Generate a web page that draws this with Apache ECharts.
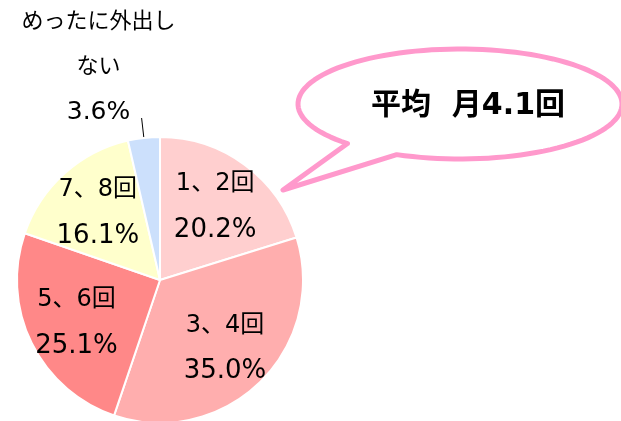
<!DOCTYPE html>
<html>
<head>
<meta charset="utf-8">
<script src="https://cdn.jsdelivr.net/npm/echarts@6/dist/echarts.min.js"></script>
<style>
html,body{margin:0;padding:0;background:#fff;}
#main{width:621px;height:421px;}
</style>
</head>
<body>
<div id="main"></div>
<script>
//外出の頻度（月あたり）
var categories = ['1、2回', '3、4回', '5、6回', '7、8回', 'めったに外出しない'];
var shares = [20.2, 35.0, 25.1, 16.1, 3.6];
var averageText = '平均  月4.1回';

var sliceColors = ['#ffcfcf', '#ffaeae', '#ff8888', '#ffffcc', '#cce0fc'];
var labelFont = '"DejaVu Sans", "Noto Sans CJK JP", sans-serif';
var lastIndex = categories.length - 1;

//「めったに外出しない」用ラベル
var smallSliceLabel = {
    show: true,
    formatter: function (p) {
        return '{a|' + p.name.slice(0, 7) + '}\n{a|' + p.name.slice(7) + '}\n{v|' + p.value.toFixed(1) + '%}';
    },
    rich: {
        a: {
            color: '#000',
            fontFamily: labelFont,
            fontSize: 22,
            lineHeight: 45,
            width: 160,
            align: 'center'
        },
        v: {
            color: '#000',
            fontFamily: labelFont,
            fontSize: 25,
            lineHeight: 45,
            width: 160,
            align: 'center'
        }
    }
};

//本体（引き出し線のみ）
function mainData(){
    var list = [];
    for (var i = 0; i < categories.length; i++) {
        var item = { name: categories[i], value: shares[i] };
        if (i === lastIndex) {
            item.label = { show: true, formatter: ' ', fontSize: 2 };
            item.labelLine = { show: true };
        }
        list.push(item);
    }
    return list;
}

//ラベル用
function labelData(){
    var list = [];
    for (var i = 0; i < categories.length; i++) {
        var item = { name: categories[i], value: shares[i] };
        if (i === lastIndex) {
            item.label = smallSliceLabel;
        }
        list.push(item);
    }
    return list;
}

//吹き出しの輪郭
function bubblePoints(){
    var cx = 460, cy = 104, rx = 162, ry = 55;
    var pts = [];
    var t0 = 113, t1 = 134 - 360;
    for (var t = t0; t >= t1; t -= 3) {
        var a = t * Math.PI / 180;
        pts.push([cx + rx * Math.cos(a), cy + ry * Math.sin(a)]);
    }
    var a1 = t1 * Math.PI / 180;
    pts.push([cx + rx * Math.cos(a1), cy + ry * Math.sin(a1)]);
    pts.push([283, 190]);
    return pts;
}

var chart = echarts.init(document.getElementById('main'));
chart.setOption({
    animation: false,
    color: sliceColors,
    series: [
        {
            //本体の円グラフ
            type: 'pie',
            center: [160, 280],
            radius: 143,
            startAngle: 90,
            clockwise: true,
            silent: true,
            itemStyle: { borderColor: '#fff', borderWidth: 2 },
            label: { show: false, position: 'outside' },
            labelLine: {
                show: false,
                length: 20,
                length2: 0,
                lineStyle: { color: '#000', width: 1 }
            },
            labelLayout: function (params) {
                if (params.dataIndex === lastIndex) {
                    return { dx: -18, dy: 0 };
                }
            },
            data: mainData()
        },
        {
            //内側ラベル用（透明）
            type: 'pie',
            center: [160, 282],
            radius: [37, 143],
            startAngle: 90,
            clockwise: true,
            silent: true,
            itemStyle: { color: 'rgba(0,0,0,0)', borderWidth: 0 },
            label: {
                show: true,
                position: 'inside',
                formatter: function (p) {
                    return '{n|' + p.name + '}\n{v|' + p.value.toFixed(1) + '%}';
                },
                rich: {
                    n: { color: '#000', fontFamily: labelFont, fontSize: 24, lineHeight: 46 },
                    v: { color: '#000', fontFamily: labelFont, fontSize: 26, lineHeight: 46 }
                }
            },
            labelLine: { show: false },
            labelLayout: function (params) {
                if (params.dataIndex === lastIndex) {
                    return { dx: -51, dy: -122 };
                }
            },
            data: labelData()
        }
    ],
    graphic: [
        {
            type: 'polygon',
            z: 10,
            shape: { points: bubblePoints() },
            style: { fill: '#fff', stroke: '#ff99cc', lineWidth: 5, lineJoin: 'round' }
        },
        {
            type: 'text',
            z: 11,
            x: 468,
            y: 106,
            style: {
                text: averageText,
                fill: '#000',
                font: 'bold 30px "DejaVu Sans", "Noto Sans CJK JP", sans-serif',
                textAlign: 'center',
                textVerticalAlign: 'middle'
            }
        }
    ]
});
</script>
</body>
</html>
